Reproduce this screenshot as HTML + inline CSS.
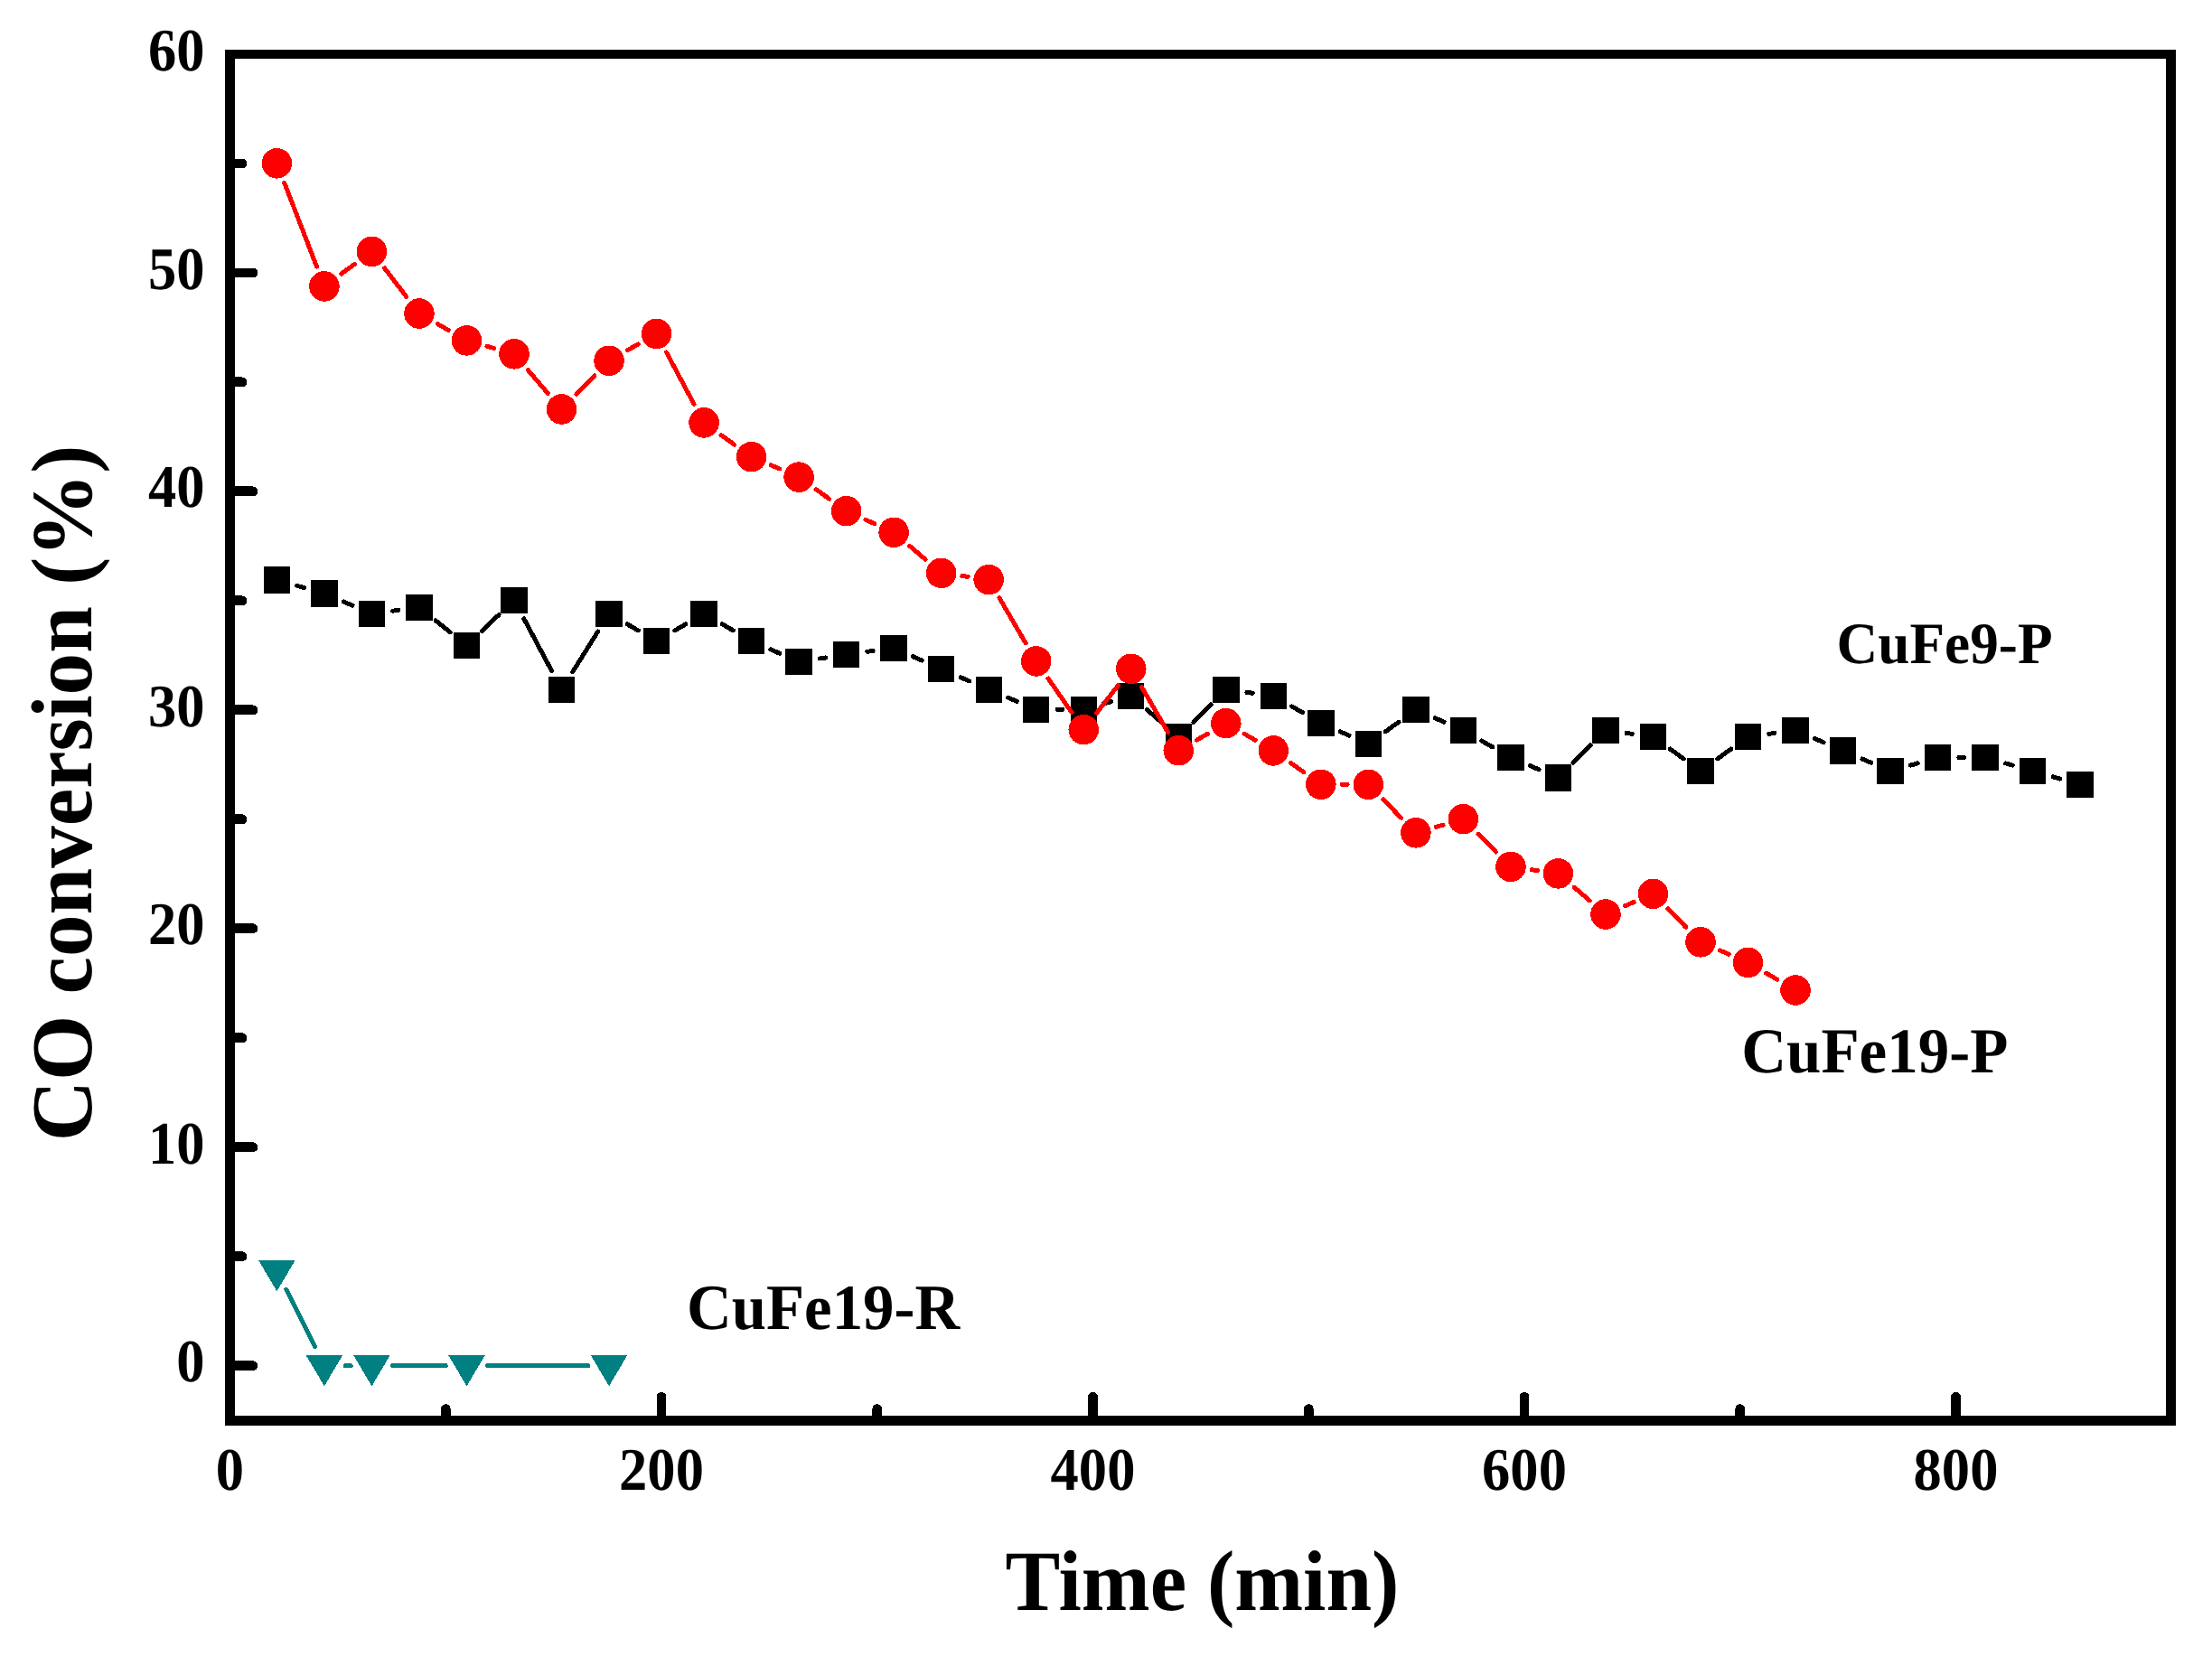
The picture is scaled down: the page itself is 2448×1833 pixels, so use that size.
<!DOCTYPE html><html><head><meta charset="utf-8"><title>CO conversion vs Time</title><style>html,body{margin:0;padding:0;background:#fff}svg{display:block}</style></head><body><svg width="2448" height="1833" viewBox="0 0 2448 1833" shape-rendering="crispEdges">
<rect width="2448" height="1833" fill="#fff"/>
<g stroke="#000" stroke-width="10.9" stroke-linecap="round"><line x1="254.5" y1="1511.70" x2="279.9" y2="1511.70"/><line x1="254.5" y1="1269.75" x2="279.9" y2="1269.75"/><line x1="254.5" y1="1027.80" x2="279.9" y2="1027.80"/><line x1="254.5" y1="785.85" x2="279.9" y2="785.85"/><line x1="254.5" y1="543.90" x2="279.9" y2="543.90"/><line x1="254.5" y1="301.95" x2="279.9" y2="301.95"/><line x1="254.5" y1="60.00" x2="279.9" y2="60.00"/><line x1="254.5" y1="1390.73" x2="268.0" y2="1390.73"/><line x1="254.5" y1="1148.78" x2="268.0" y2="1148.78"/><line x1="254.5" y1="906.83" x2="268.0" y2="906.83"/><line x1="254.5" y1="664.88" x2="268.0" y2="664.88"/><line x1="254.5" y1="422.92" x2="268.0" y2="422.92"/><line x1="254.5" y1="180.98" x2="268.0" y2="180.98"/><line x1="254.50" y1="1572.4" x2="254.50" y2="1546.3"/><line x1="732.00" y1="1572.4" x2="732.00" y2="1546.3"/><line x1="1209.50" y1="1572.4" x2="1209.50" y2="1546.3"/><line x1="1687.00" y1="1572.4" x2="1687.00" y2="1546.3"/><line x1="2164.50" y1="1572.4" x2="2164.50" y2="1546.3"/><line x1="493.25" y1="1572.4" x2="493.25" y2="1559.7"/><line x1="970.75" y1="1572.4" x2="970.75" y2="1559.7"/><line x1="1448.25" y1="1572.4" x2="1448.25" y2="1559.7"/><line x1="1925.75" y1="1572.4" x2="1925.75" y2="1559.7"/></g>
<rect x="254.5" y="60.0" width="2147.7" height="1512.4" fill="none" stroke="#000" stroke-width="10.9"/>
<g stroke="#000" stroke-width="5" stroke-linecap="round" fill="none"><line x1="328.82" y1="648.36" x2="336.50" y2="650.54"/><line x1="380.35" y1="666.04" x2="390.01" y2="670.16"/><line x1="434.54" y1="676.22" x2="440.86" y2="675.38"/><line x1="482.14" y1="686.87" x2="498.30" y2="699.83"/><line x1="533.36" y1="698.33" x2="552.12" y2="680.47"/><line x1="579.93" y1="684.98" x2="610.59" y2="742.72"/><line x1="633.87" y1="743.54" x2="661.69" y2="699.06"/><line x1="694.24" y1="690.91" x2="706.36" y2="697.89"/><line x1="746.76" y1="697.89" x2="758.88" y2="690.91"/><line x1="799.28" y1="690.91" x2="811.40" y2="697.89"/><line x1="852.93" y1="718.88" x2="862.79" y2="723.22"/><line x1="907.14" y1="729.01" x2="913.62" y2="727.99"/><line x1="959.74" y1="721.32" x2="966.06" y2="720.48"/><line x1="1010.49" y1="726.78" x2="1020.35" y2="731.12"/><line x1="1063.07" y1="749.74" x2="1072.81" y2="753.96"/><line x1="1115.66" y1="772.27" x2="1125.26" y2="776.33"/><line x1="1170.02" y1="785.40" x2="1175.94" y2="785.40"/><line x1="1221.62" y1="778.92" x2="1229.38" y2="776.68"/><line x1="1269.32" y1="785.51" x2="1286.72" y2="800.69"/><line x1="1320.73" y1="799.50" x2="1340.35" y2="779.80"/><line x1="1379.90" y1="766.38" x2="1386.22" y2="767.22"/><line x1="1429.54" y1="781.89" x2="1441.62" y2="788.81"/><line x1="1483.17" y1="809.78" x2="1493.03" y2="814.12"/><line x1="1533.24" y1="809.84" x2="1548.00" y2="799.16"/><line x1="1588.24" y1="794.81" x2="1598.04" y2="799.09"/><line x1="1639.62" y1="819.99" x2="1651.70" y2="826.91"/><line x1="1693.35" y1="847.64" x2="1703.01" y2="851.76"/><line x1="1740.92" y1="844.43" x2="1760.48" y2="824.87"/><line x1="1800.06" y1="811.48" x2="1806.38" y2="812.32"/><line x1="1848.34" y1="829.08" x2="1863.14" y2="839.82"/><line x1="1900.86" y1="839.82" x2="1915.66" y2="829.08"/><line x1="1957.62" y1="812.32" x2="1963.94" y2="811.48"/><line x1="2008.47" y1="817.54" x2="2018.13" y2="821.66"/><line x1="2060.95" y1="840.04" x2="2070.69" y2="844.26"/><line x1="2114.48" y1="847.10" x2="2122.20" y2="844.90"/><line x1="2167.90" y1="838.50" x2="2173.82" y2="838.50"/><line x1="2219.52" y1="844.90" x2="2227.24" y2="847.10"/><line x1="2272.06" y1="859.86" x2="2279.74" y2="862.04"/></g>
<g fill="#000"><rect x="291.70" y="627.30" width="29.4" height="29.4"/><rect x="344.22" y="642.20" width="29.4" height="29.4"/><rect x="396.74" y="664.60" width="29.4" height="29.4"/><rect x="449.26" y="657.60" width="29.4" height="29.4"/><rect x="501.78" y="699.70" width="29.4" height="29.4"/><rect x="554.30" y="649.70" width="29.4" height="29.4"/><rect x="606.82" y="748.60" width="29.4" height="29.4"/><rect x="659.34" y="664.60" width="29.4" height="29.4"/><rect x="711.86" y="694.80" width="29.4" height="29.4"/><rect x="764.38" y="664.60" width="29.4" height="29.4"/><rect x="816.90" y="694.80" width="29.4" height="29.4"/><rect x="869.42" y="717.90" width="29.4" height="29.4"/><rect x="921.94" y="709.70" width="29.4" height="29.4"/><rect x="974.46" y="702.70" width="29.4" height="29.4"/><rect x="1026.98" y="725.80" width="29.4" height="29.4"/><rect x="1079.50" y="748.50" width="29.4" height="29.4"/><rect x="1132.02" y="770.70" width="29.4" height="29.4"/><rect x="1184.54" y="770.70" width="29.4" height="29.4"/><rect x="1237.06" y="755.50" width="29.4" height="29.4"/><rect x="1289.58" y="801.30" width="29.4" height="29.4"/><rect x="1342.10" y="748.60" width="29.4" height="29.4"/><rect x="1394.62" y="755.60" width="29.4" height="29.4"/><rect x="1447.14" y="785.70" width="29.4" height="29.4"/><rect x="1499.66" y="808.80" width="29.4" height="29.4"/><rect x="1552.18" y="770.80" width="29.4" height="29.4"/><rect x="1604.70" y="793.70" width="29.4" height="29.4"/><rect x="1657.22" y="823.80" width="29.4" height="29.4"/><rect x="1709.74" y="846.20" width="29.4" height="29.4"/><rect x="1762.26" y="793.70" width="29.4" height="29.4"/><rect x="1814.78" y="800.70" width="29.4" height="29.4"/><rect x="1867.30" y="838.80" width="29.4" height="29.4"/><rect x="1919.82" y="800.70" width="29.4" height="29.4"/><rect x="1972.34" y="793.70" width="29.4" height="29.4"/><rect x="2024.86" y="816.10" width="29.4" height="29.4"/><rect x="2077.38" y="838.80" width="29.4" height="29.4"/><rect x="2129.90" y="823.80" width="29.4" height="29.4"/><rect x="2182.42" y="823.80" width="29.4" height="29.4"/><rect x="2234.94" y="838.80" width="29.4" height="29.4"/><rect x="2287.46" y="853.70" width="29.4" height="29.4"/></g>
<g stroke="#f00" stroke-width="5" stroke-linecap="round" fill="none"><line x1="314.79" y1="202.54" x2="350.53" y2="295.16"/><line x1="377.71" y1="303.12" x2="392.65" y2="292.18"/><line x1="425.60" y1="296.90" x2="449.80" y2="328.50"/><line x1="484.21" y1="358.53" x2="496.23" y2="365.37"/><line x1="538.90" y1="383.26" x2="546.58" y2="385.44"/><line x1="584.17" y1="409.48" x2="606.35" y2="435.32"/><line x1="637.81" y1="436.34" x2="657.75" y2="415.96"/><line x1="694.29" y1="387.77" x2="706.31" y2="380.93"/><line x1="737.52" y1="389.96" x2="768.12" y2="447.34"/><line x1="797.99" y1="481.51" x2="812.69" y2="492.09"/><line x1="853.03" y1="514.84" x2="862.69" y2="518.96"/><line x1="903.07" y1="541.66" x2="917.69" y2="552.14"/><line x1="957.89" y1="575.25" x2="967.91" y2="579.75"/><line x1="1006.85" y1="604.46" x2="1023.99" y2="619.14"/><line x1="1064.76" y1="637.51" x2="1071.12" y2="638.39"/><line x1="1105.91" y1="661.74" x2="1135.01" y2="711.76"/><line x1="1160.00" y1="751.04" x2="1185.96" y2="788.46"/><line x1="1213.57" y1="789.23" x2="1237.43" y2="758.67"/><line x1="1263.46" y1="760.45" x2="1292.58" y2="810.55"/><line x1="1324.50" y1="819.11" x2="1336.58" y2="812.19"/><line x1="1376.98" y1="812.24" x2="1389.14" y2="819.26"/><line x1="1428.30" y1="844.42" x2="1442.86" y2="854.78"/><line x1="1485.14" y1="868.30" x2="1491.06" y2="868.30"/><line x1="1530.68" y1="884.93" x2="1550.56" y2="905.17"/><line x1="1589.27" y1="915.36" x2="1597.01" y2="913.14"/><line x1="1635.85" y1="923.20" x2="1655.47" y2="942.90"/><line x1="1694.99" y1="962.69" x2="1701.37" y2="963.61"/><line x1="1742.12" y1="982.08" x2="1759.28" y2="996.82"/><line x1="1798.35" y1="1002.76" x2="1808.09" y2="998.54"/><line x1="1845.80" y1="1005.93" x2="1865.68" y2="1026.17"/><line x1="1903.40" y1="1052.01" x2="1913.12" y2="1056.19"/><line x1="1954.65" y1="1077.13" x2="1966.91" y2="1084.27"/></g>
<g fill="#f00"><circle cx="306.40" cy="180.80" r="16.8"/><circle cx="358.92" cy="316.90" r="16.8"/><circle cx="411.44" cy="278.40" r="16.8"/><circle cx="463.96" cy="347.00" r="16.8"/><circle cx="516.48" cy="376.90" r="16.8"/><circle cx="569.00" cy="391.80" r="16.8"/><circle cx="621.52" cy="453.00" r="16.8"/><circle cx="674.04" cy="399.30" r="16.8"/><circle cx="726.56" cy="369.40" r="16.8"/><circle cx="779.08" cy="467.90" r="16.8"/><circle cx="831.60" cy="505.70" r="16.8"/><circle cx="884.12" cy="528.10" r="16.8"/><circle cx="936.64" cy="565.70" r="16.8"/><circle cx="989.16" cy="589.30" r="16.8"/><circle cx="1041.68" cy="634.30" r="16.8"/><circle cx="1094.20" cy="641.60" r="16.8"/><circle cx="1146.72" cy="731.90" r="16.8"/><circle cx="1199.24" cy="807.60" r="16.8"/><circle cx="1251.76" cy="740.30" r="16.8"/><circle cx="1304.28" cy="830.70" r="16.8"/><circle cx="1356.80" cy="800.60" r="16.8"/><circle cx="1409.32" cy="830.90" r="16.8"/><circle cx="1461.84" cy="868.30" r="16.8"/><circle cx="1514.36" cy="868.30" r="16.8"/><circle cx="1566.88" cy="921.80" r="16.8"/><circle cx="1619.40" cy="906.70" r="16.8"/><circle cx="1671.92" cy="959.40" r="16.8"/><circle cx="1724.44" cy="966.90" r="16.8"/><circle cx="1776.96" cy="1012.00" r="16.8"/><circle cx="1829.48" cy="989.30" r="16.8"/><circle cx="1882.00" cy="1042.80" r="16.8"/><circle cx="1934.52" cy="1065.40" r="16.8"/><circle cx="1987.04" cy="1096.00" r="16.8"/></g>
<g stroke="#008080" stroke-width="5" stroke-linecap="round" fill="none"><line x1="316.82" y1="1427.54" x2="348.50" y2="1490.86"/><line x1="382.22" y1="1511.70" x2="388.14" y2="1511.70"/><line x1="434.74" y1="1511.70" x2="493.18" y2="1511.70"/><line x1="539.78" y1="1511.70" x2="650.74" y2="1511.70"/></g>
<g fill="#008080"><polygon points="286.30,1395.40 326.50,1395.40 306.40,1429.30"/><polygon points="338.82,1500.40 379.02,1500.40 358.92,1534.30"/><polygon points="391.34,1500.40 431.54,1500.40 411.44,1534.30"/><polygon points="496.38,1500.40 536.58,1500.40 516.48,1534.30"/><polygon points="653.94,1500.40 694.14,1500.40 674.04,1534.30"/></g>
<g font-family="'Liberation Serif', 'Times New Roman', serif" font-weight="bold" fill="#000" text-rendering="geometricPrecision"><text transform="translate(226.50,1529.25) scale(0.933,1)" font-size="67" text-anchor="end" >0</text><text transform="translate(226.50,1287.75) scale(0.933,1)" font-size="67" text-anchor="end" >10</text><text transform="translate(226.50,1045.35) scale(0.933,1)" font-size="67" text-anchor="end" >20</text><text transform="translate(226.50,804.35) scale(0.933,1)" font-size="67" text-anchor="end" >30</text><text transform="translate(226.50,560.55) scale(0.933,1)" font-size="67" text-anchor="end" >40</text><text transform="translate(226.50,320.40) scale(0.933,1)" font-size="67" text-anchor="end" >50</text><text transform="translate(226.50,78.45) scale(0.933,1)" font-size="67" text-anchor="end" >60</text><text transform="translate(254.50,1649.20) scale(0.933,1)" font-size="67" text-anchor="middle" >0</text><text transform="translate(732.00,1649.20) scale(0.933,1)" font-size="67" text-anchor="middle" >200</text><text transform="translate(1209.50,1649.20) scale(0.933,1)" font-size="67" text-anchor="middle" >400</text><text transform="translate(1687.00,1649.20) scale(0.933,1)" font-size="67" text-anchor="middle" >600</text><text transform="translate(2164.50,1649.20) scale(0.933,1)" font-size="67" text-anchor="middle" >800</text><text transform="translate(1330.40,1782.00) scale(0.9586,1)" font-size="95" text-anchor="middle" >Time (min)</text><text transform="translate(101.00,878.00) rotate(-90) scale(0.97,1)" font-size="96" text-anchor="middle" >CO conversion (%)</text><text transform="translate(2032.50,733.80) scale(0.974,1)" font-size="65" text-anchor="start" >CuFe9-P</text><text transform="translate(1927.20,1186.80) scale(0.972,1)" font-size="71" text-anchor="start" >CuFe19-P</text><text transform="translate(760.00,1471.00) scale(0.966,1)" font-size="71.3" text-anchor="start" >CuFe19-R</text></g>
</svg></body></html>
